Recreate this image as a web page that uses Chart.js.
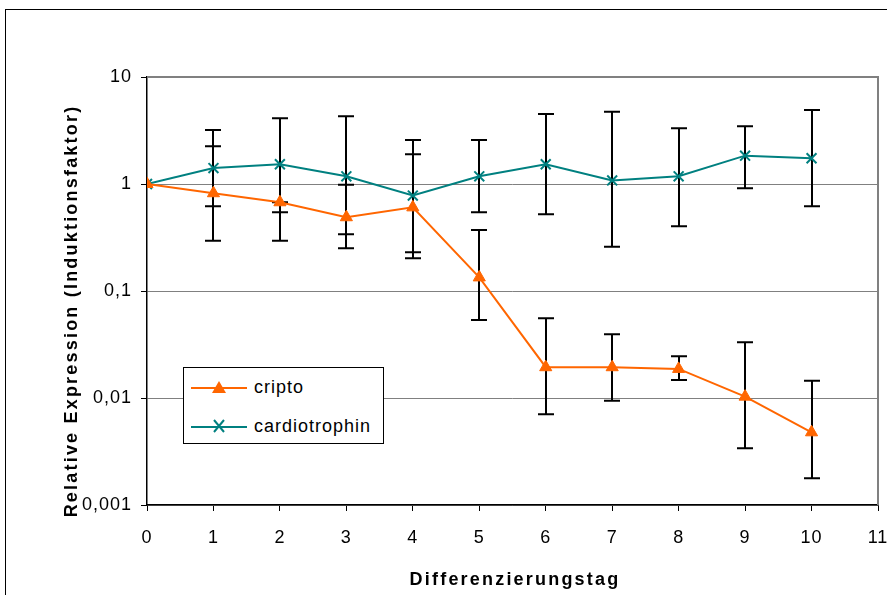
<!DOCTYPE html>
<html>
<head>
<meta charset="utf-8">
<script src="https://cdn.jsdelivr.net/npm/chart.js@4.4.0/dist/chart.umd.min.js"></script>
<style>
  html, body { margin: 0; padding: 0; background: #fff; }
  #wrap { position: relative; width: 887px; height: 595px; overflow: hidden; }
  #frame { position: absolute; left: 5px; top: 9px; width: 1000px; height: 700px; border: 1px solid #000; }
  #chart { position: absolute; left: 0; top: 0; }
  #legend {
    position: absolute; left: 183px; top: 367px; width: 199px; height: 75px;
    border: 1px solid #000; background: #fff;
    font-family: "Liberation Sans", Arial, sans-serif; font-size: 18px; letter-spacing: 1px; color: #000;
  }
  #legend .item { position: absolute; left: 7px; height: 20px; display: flex; align-items: center; }
  #legend svg { margin-right: 7px; }
</style>
</head>
<body>
<div id="wrap">
  <div id="frame"></div>
  <canvas id="chart" width="887" height="595"></canvas>
  <div id="legend"></div>
</div>
<script>
/* relative expression over differentiation days, log scale with error bars */

const days = [0, 1, 2, 3, 4, 5, 6, 7, 8, 9, 10];
const yTicks = [0.001, 0.01, 0.1, 1, 10];
const xTitle = 'Differenzierungstag';
const yTitle = 'Relative Expression (Induktionsfaktor)';

const cripto     = [1.0, 0.82, 0.675, 0.489, 0.605, 0.134, 0.0194, 0.0194, 0.0187, 0.0103, 0.00478];
const criptoLow  = [1.0, 0.62, 0.544, 0.251, 0.202, 0.0536, 0.00704, 0.00944, 0.0147, 0.00339, 0.00178];
const criptoHigh = [1.0, 2.25, 0.675, 0.985, 1.90, 0.372, 0.0556, 0.0394, 0.0245, 0.0332, 0.0145];

const cardio     = [1.0, 1.41, 1.53, 1.18, 0.78, 1.18, 1.53, 1.08, 1.18, 1.84, 1.74];
const cardioLow  = [1.0, 0.295, 0.295, 0.339, 0.230, 0.544, 0.521, 0.259, 0.403, 0.911, 0.619];
const cardioHigh = [1.0, 3.20, 4.11, 4.29, 2.58, 2.58, 4.51, 4.74, 3.32, 3.46, 4.92];

const FONT = 'Liberation Sans, Arial, sans-serif';
const ORANGE = '#FF6600';
const TEAL = '#008080';

const toPoints = (vals) => days.map((d, i) => ({ x: d, y: vals[i] }));

// error bars drawn under the markers
const errorBars = {
  id: 'errorBars',
  beforeDatasetsDraw(chart) {
    const { ctx, scales: { x, y } } = chart;
    ctx.save();
    ctx.strokeStyle = '#000';
    ctx.lineWidth = 2;
    chart.data.datasets.forEach(ds => {
      days.forEach((d, i) => {
        const px = Math.round(x.getPixelForValue(d));
        const lo = y.getPixelForValue(ds.errLow[i]);
        const hi = y.getPixelForValue(ds.errHigh[i]);
        if (Math.abs(lo - hi) < 1) return;
        ctx.beginPath();
        ctx.moveTo(px, lo); ctx.lineTo(px, hi);
        ctx.moveTo(px - 8, lo); ctx.lineTo(px + 8, lo);
        ctx.moveTo(px - 8, hi); ctx.lineTo(px + 8, hi);
        ctx.stroke();
      });
    });
    ctx.restore();
  }
};

// grey top/right frame of the plot + spaced-out axis titles
const plotFrame = {
  id: 'plotFrame',
  beforeDraw(chart) {
    chart.ctx.letterSpacing = '1px';
  },
  beforeDatasetsDraw(chart) {
    const { ctx, chartArea: a } = chart;
    ctx.save();
    ctx.strokeStyle = '#808080';
    ctx.lineWidth = 2;
    ctx.beginPath();
    ctx.moveTo(a.left, a.top); ctx.lineTo(a.right, a.top); ctx.lineTo(a.right, a.bottom);
    ctx.stroke();
    ctx.restore();
  },
  afterDraw(chart) {
    const { ctx } = chart;
    ctx.save();
    ctx.letterSpacing = '2.2px';
    ctx.fillStyle = '#000';
    ctx.font = 'bold 18px ' + FONT;
    ctx.textAlign = 'center';
    ctx.textBaseline = 'alphabetic';
    ctx.fillText(xTitle, 515, 585);
    ctx.translate(77, 311);
    ctx.rotate(-Math.PI / 2);
    ctx.fillText(yTitle, 0, 0);
    ctx.restore();
  }
};

const chart = new Chart(document.getElementById('chart'), {
  type: 'line',
  data: {
    datasets: [
      {
        label: 'cripto',
        data: toPoints(cripto),
        errLow: criptoLow, errHigh: criptoHigh,
        borderColor: ORANGE, backgroundColor: ORANGE,
        borderWidth: 2, pointStyle: 'triangle', pointRadius: 7,
        pointBorderWidth: 1, tension: 0
      },
      {
        label: 'cardiotrophin',
        data: toPoints(cardio),
        errLow: cardioLow, errHigh: cardioHigh,
        borderColor: TEAL, backgroundColor: TEAL,
        borderWidth: 2, pointStyle: 'crossRot', pointRadius: 7,
        pointBorderWidth: 2, tension: 0
      }
    ]
  },
  options: {
    responsive: false,
    animation: false,
    layout: { padding: { left: 58, top: 77, right: 5, bottom: 4 } },
    plugins: { legend: { display: false }, tooltip: { enabled: false } },
    scales: {
      x: {
        type: 'linear', min: 0, max: 11,
        afterFit(s) { s.height = 86; s.paddingLeft = 0; s.paddingRight = 0; },
        ticks: { stepSize: 1, color: '#000', padding: 16, font: { family: FONT, size: 18 } },
        grid: { drawOnChartArea: false, tickLength: 6, color: '#000' },
        border: { color: '#000', width: 1.5 }
      },
      y: {
        type: 'logarithmic', min: 0.001, max: 10,
        afterFit(s) { s.width = 89; s.paddingTop = 0; s.paddingBottom = 0; },
        afterBuildTicks(s) { s.ticks = yTicks.map(v => ({ value: v })); },
        ticks: {
          color: '#000', padding: 9, font: { family: FONT, size: 18 },
          callback: (v) => String(v).replace('.', ',')
        },
        grid: { color: '#808080', tickColor: '#000', tickLength: 6 },
        border: { color: '#000', width: 1.5 }
      }
    }
  },
  plugins: [plotFrame, errorBars]
});

// legend box with line + marker samples
const legend = document.getElementById('legend');
chart.data.datasets.forEach((ds, i) => {
  const item = document.createElement('div');
  item.className = 'item';
  item.style.top = (9 + i * 39) + 'px';
  const mark = ds.pointStyle === 'triangle'
    ? `<polygon points="28,3 35,15 21,15" fill="${ds.borderColor}"/>`
    : `<path d="M23,3 L33,15 M33,3 L23,15" stroke="${ds.borderColor}" stroke-width="2"/>`;
  item.innerHTML = `<svg width="56" height="18"><line x1="0" y1="10" x2="56" y2="10" stroke="${ds.borderColor}" stroke-width="2"/>${mark}</svg><span>${ds.label}</span>`;
  legend.appendChild(item);
});
</script>
</body>
</html>
